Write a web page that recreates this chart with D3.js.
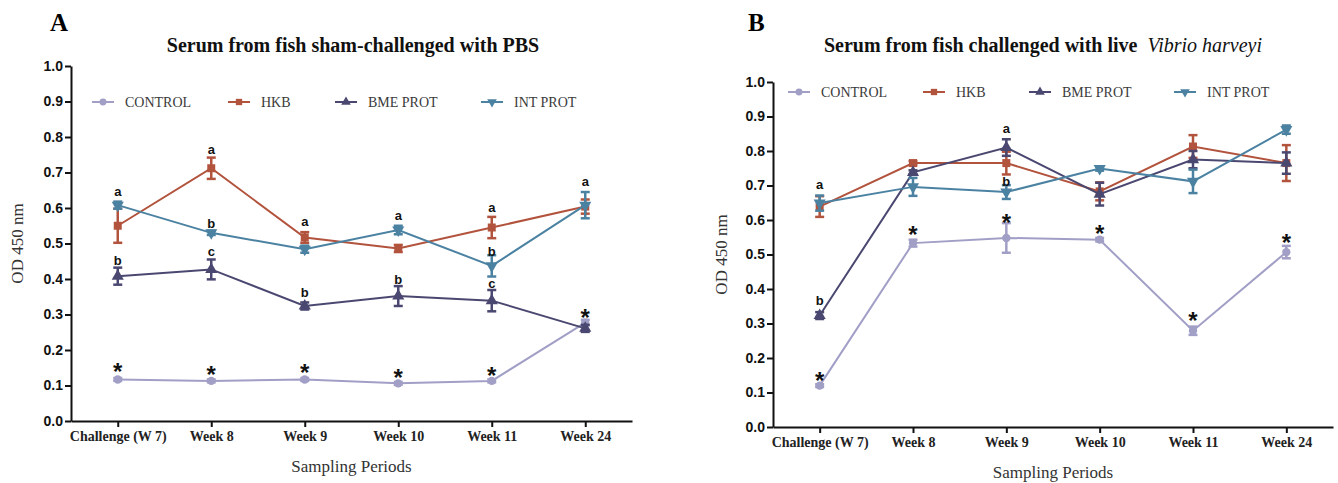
<!DOCTYPE html>
<html>
<head>
<meta charset="utf-8">
<script src="https://cdn.jsdelivr.net/npm/d3@7"></script>
<style>
  body { margin: 0; background: #fff; }
  svg { display: block; }
</style>
</head>
<body>
<div id="chart"></div>
<script>
// categories and series
const categories = ["Challenge (W 7)", "Week 8", "Week 9", "Week 10", "Week 11", "Week 24"]
const seriesNames = ["CONTROL", "HKB", "BME PROT", "INT PROT"]
const yTicks = [0, 0.1, 0.2, 0.3, 0.4, 0.5, 0.6, 0.7, 0.8, 0.9, 1.0]

// Panel A - sham-challenged with PBS (mean, error)
const shamControl = [0.117, 0.113, 0.117, 0.106, 0.113, 0.277]
const shamControlErr = [0.004, 0.004, 0.004, 0.004, 0.004, 0.008]
const shamHKB = [0.55, 0.712, 0.517, 0.486, 0.545, 0.604]
const shamHKBErr = [0.048, 0.03, 0.015, 0.01, 0.03, 0.02]
const shamBME = [0.408, 0.427, 0.324, 0.352, 0.339, 0.261]
const shamBMEErr = [0.024, 0.028, 0.01, 0.028, 0.03, 0.01]
const shamINT = [0.608, 0.53, 0.484, 0.538, 0.437, 0.608]
const shamINTErr = [0.01, 0.006, 0.01, 0.012, 0.03, 0.037]

// Panel B - challenged with live Vibrio harveyi
const vhControl = [0.12, 0.533, 0.548, 0.543, 0.279, 0.507]
const vhControlErr = [0.004, 0.01, 0.043, 0.005, 0.012, 0.018]
const vhHKB = [0.639, 0.765, 0.765, 0.683, 0.813, 0.765]
const vhHKBErr = [0.03, 0.006, 0.033, 0.026, 0.033, 0.052]
const vhBME = [0.323, 0.738, 0.81, 0.675, 0.775, 0.765]
const vhBMEErr = [0.01, 0.006, 0.024, 0.033, 0.025, 0.031]
const vhINT = [0.649, 0.696, 0.681, 0.749, 0.712, 0.862]
const vhINTErr = [0.022, 0.026, 0.02, 0.006, 0.034, 0.012]

// significance labels: [text, category index, value where label sits]
const shamLabels = [
  ["a", 0, 0.646], ["b", 0, 0.454], ["*", 0, 0.153],
  ["a", 1, 0.763], ["b", 1, 0.559], ["c", 1, 0.477], ["*", 1, 0.144],
  ["a", 2, 0.56], ["b", 2, 0.363], ["*", 2, 0.149],
  ["a", 3, 0.578], ["b", 3, 0.399], ["*", 3, 0.135],
  ["a", 4, 0.599], ["b", 4, 0.48], ["c", 4, 0.385], ["*", 4, 0.141],
  ["a", 5, 0.674], ["*", 5, 0.303]
]
const vhLabels = [
  ["a", 0, 0.702], ["b", 0, 0.369], ["*", 0, 0.147],
  ["*", 1, 0.572],
  ["a", 2, 0.864], ["b", 2, 0.714], ["*", 2, 0.606],
  ["*", 3, 0.574],
  ["*", 4, 0.323],
  ["*", 5, 0.548]
]

const colors = ["#a19fc6", "#b2533d", "#4a4870", "#4b82a2"]
const markers = [d3.symbolCircle, d3.symbolSquare, d3.symbolTriangle, "down"]

const serif = "'Liberation Serif', 'Times New Roman', serif"
const sans = "'Liberation Sans', Arial, sans-serif"

const svg = d3.select("#chart")
  .append("svg")
    .attr("width", 1338)
    .attr("height", 483)

// marker path generator, "down" = inverted triangle
function markerPath(type, size) {
  if (type == "down") return d3.symbol(d3.symbolTriangle, size)()
  return d3.symbol(type, size)()
}
function markerRotate(type) {
  return type == "down" ? " rotate(180)" : ""
}

function drawPanel(p) {
  const g = svg.append("g")

  const x = d3.scalePoint()
    .domain(categories)
    .range([p.left, p.right])
    .padding(0.5)

  const y = d3.scaleLinear()
    .domain([0, 1])
    .range([p.bottom, p.top])

  // panel letter
  g.append("text")
    .attr("x", p.letterX)
    .attr("y", 31)
    .attr("font-family", serif)
    .attr("font-weight", "bold")
    .attr("font-size", 25)
    .text(p.letter)

  // title
  const title = g.append("text")
    .attr("x", p.titleX)
    .attr("y", 52)
    .attr("text-anchor", "middle")
    .attr("font-family", serif)
    .attr("font-weight", "bold")
    .attr("font-size", 20)
    .attr("fill", "#111")
  p.title.forEach(t => {
    title.append("tspan")
      .attr("font-style", t.italic ? "italic" : "normal")
      .attr("font-weight", t.italic ? "normal" : "bold")
      .text(t.text)
  })

  // axes
  const yAxis = g.append("g")
    .attr("transform", `translate(${p.left},0)`)
    .call(d3.axisLeft(y).tickValues(yTicks).tickFormat(d3.format(".1f")).tickSize(6).tickSizeOuter(0))
  const xAxis = g.append("g")
    .attr("transform", `translate(0,${p.bottom})`)
    .call(d3.axisBottom(x).tickSize(6).tickSizeOuter(0))

  yAxis.selectAll(".domain, .tick line").attr("stroke", "#111").attr("stroke-width", 2)
  xAxis.selectAll(".domain, .tick line").attr("stroke", "#111").attr("stroke-width", 2)
  yAxis.selectAll(".tick text")
    .attr("font-family", sans)
    .attr("font-weight", "bold")
    .attr("font-size", 14)
    .attr("fill", "#111")
    .attr("x", -8)
  xAxis.selectAll(".tick text")
    .attr("font-family", serif)
    .attr("font-weight", "bold")
    .attr("font-size", 14)
    .attr("fill", "#222")
    .attr("y", 10)

  // axis titles
  g.append("text")
    .attr("transform", `translate(${p.yLabelX},${(p.top + p.bottom) / 2}) rotate(-90)`)
    .attr("text-anchor", "middle")
    .attr("font-family", serif)
    .attr("font-size", 17)
    .attr("fill", "#333")
    .text("OD 450 nm")
  g.append("text")
    .attr("x", (p.left + p.right) / 2)
    .attr("y", p.bottom + 51)
    .attr("text-anchor", "middle")
    .attr("font-family", serif)
    .attr("font-size", 17)
    .attr("fill", "#333")
    .text("Sampling Periods")

  // legend
  seriesNames.forEach((name, i) => {
    const lx = p.legendX[i]
    const lg = g.append("g")
    lg.append("line")
      .attr("x1", lx).attr("x2", lx + 22)
      .attr("y1", p.legendY).attr("y2", p.legendY)
      .attr("stroke", colors[i]).attr("stroke-width", 2)
    lg.append("path")
      .attr("d", markerPath(markers[i], i == 0 ? 38 : 40))
      .attr("transform", `translate(${lx + 11},${p.legendY})` + markerRotate(markers[i]))
      .attr("fill", colors[i])
    lg.append("text")
      .attr("x", lx + 33)
      .attr("y", p.legendY + 5)
      .attr("font-family", serif)
      .attr("font-size", 14)
      .attr("fill", "#3a3a3a")
      .text(name)
  })

  // series
  const line = d3.line()
    .x((d, i) => x(categories[i]))
    .y(d => y(d))

  p.series.forEach((s, i) => {
    const sg = g.append("g")
    sg.append("path")
      .attr("d", line(s.mean))
      .attr("fill", "none")
      .attr("stroke", colors[i])
      .attr("stroke-width", 2)

    // error bars
    s.mean.forEach((m, j) => {
      const cx = x(categories[j])
      const lo = y(m - s.err[j]), hi = y(m + s.err[j])
      sg.append("line")
        .attr("x1", cx).attr("x2", cx).attr("y1", lo).attr("y2", hi)
        .attr("stroke", colors[i]).attr("stroke-width", 2.5)
      ;[lo, hi].forEach(v => {
        sg.append("line")
          .attr("x1", cx - 4.5).attr("x2", cx + 4.5).attr("y1", v).attr("y2", v)
          .attr("stroke", colors[i]).attr("stroke-width", 2.5)
      })
    })

    sg.selectAll(".mark")
      .data(s.mean)
      .join("path")
        .attr("d", markerPath(markers[i], i == 0 ? 55 : 64))
        .attr("transform", (d, j) => `translate(${x(categories[j])},${y(d)})` + markerRotate(markers[i]))
        .attr("fill", colors[i])
  })

  // significance letters
  g.selectAll(".sig")
    .data(p.labels)
    .join("text")
      .attr("x", d => x(categories[d[1]]))
      .attr("y", d => y(d[2]) + (d[0] == "*" ? 13 : (d[0] == "b" ? 5 : 4)))
      .attr("text-anchor", "middle")
      .attr("font-family", sans)
      .attr("font-weight", "bold")
      .attr("font-size", d => d[0] == "*" ? 24 : 13)
      .attr("fill", "#111")
      .text(d => d[0])
}

drawPanel({
  letter: "A", letterX: 50,
  title: [{ text: "Serum from fish sham-challenged with PBS" }],
  titleX: 353,
  left: 71, right: 632, top: 66, bottom: 421,
  yLabelX: 23,
  legendY: 102, legendX: [92, 228, 335, 481],
  series: [
    { mean: shamControl, err: shamControlErr },
    { mean: shamHKB, err: shamHKBErr },
    { mean: shamBME, err: shamBMEErr },
    { mean: shamINT, err: shamINTErr }
  ],
  labels: shamLabels
})

drawPanel({
  letter: "B", letterX: 748,
  title: [{ text: "Serum from fish challenged with live\u00a0\u00a0" }, { text: "Vibrio harveyi", italic: true }],
  titleX: 1043,
  left: 773, right: 1333, top: 82, bottom: 427,
  yLabelX: 727,
  legendY: 92, legendX: [788, 923, 1029, 1174],
  series: [
    { mean: vhControl, err: vhControlErr },
    { mean: vhHKB, err: vhHKBErr },
    { mean: vhBME, err: vhBMEErr },
    { mean: vhINT, err: vhINTErr }
  ],
  labels: vhLabels
})
</script>
</body>
</html>
